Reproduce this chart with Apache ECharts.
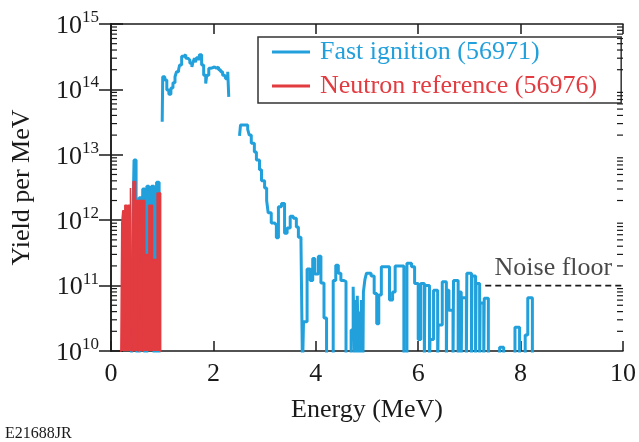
<!DOCTYPE html>
<html><head><meta charset="utf-8">
<script src="https://cdn.jsdelivr.net/npm/echarts@6/dist/echarts.min.js"></script>
<style>html,body{margin:0;padding:0;background:#fff;}#c{width:639px;height:442px;}</style>
</head><body><div id="c"></div>
<script>
const seriesNames = ['Fast ignition (56971)', 'Neutron reference (56976)'];
const xAxisTitle = 'Energy (MeV)';
const yAxisTitle = 'Yield per MeV';
const noiseFloorText = 'Noise floor';
const figureId = 'E21688JR';

// [energy (MeV), yield per MeV]; 5e9 marks a drop below the plotted floor
const blueLow = [[0.40,5e9],[0.43,1.2e12],[0.45,8.3e12],[0.49,1.0e12],[0.51,5e9],[0.55,2.2e12],[0.60,1.3e11],[0.62,3.0e12],[0.66,5e9],[0.70,3.3e12],[0.74,2e11],[0.79,3.3e12],[0.84,5e9],[0.89,3.8e12],[0.94,5e9],[0.96,5e9]];
const blueMid = [[1.00,3.2e13],[1.01,1.56e14],[1.05,1.39e14],[1.09,9.8e13],[1.13,8.4e13],[1.17,1.05e14],[1.21,1.26e14],[1.25,1.56e14],[1.28,1.86e14],[1.32,2.0e14],[1.34,2.36e14],[1.38,3.2e14],[1.42,3.4e14],[1.46,3.0e14],[1.50,2.8e14],[1.54,2.5e14],[1.58,2.2e14],[1.60,2.6e14],[1.63,3.0e14],[1.65,2.6e14],[1.67,3.05e14],[1.71,2.8e14],[1.73,3.4e14],[1.77,2.36e14],[1.81,1.65e14],[1.85,1.23e14],[1.87,1.65e14],[1.91,2.1e14],[1.95,2.0e14],[1.98,2.2e14],[2.02,2.1e14],[2.06,2.2e14],[2.10,2.0e14],[2.14,1.86e14],[2.18,1.65e14],[2.22,1.75e14],[2.24,1.46e14],[2.28,1.86e14],[2.30,7.7e13]];
const blueHigh = [[2.51,1.94e13],[2.53,2.86e13],[2.67,2.45e13],[2.70,2.0e13],[2.74,1.5e13],[2.80,1.1e13],[2.84,8.3e12],[2.90,5.9e12],[2.94,4.0e12],[3.00,3.1e12],[3.04,2.0e12],[3.07,1.3e12],[3.13,9.1e11],[3.19,8.5e11],[3.23,5.4e11],[3.27,1.6e12],[3.33,1.8e12],[3.39,6.3e11],[3.44,7.6e11],[3.50,1.15e12],[3.56,1.07e12],[3.62,7.9e11],[3.66,5.5e11],[3.71,5.0e11],[3.74,5e9],[3.76,2.8e10],[3.83,1.8e11],[3.89,1.2e11],[3.94,2.6e11],[3.98,1.5e11],[4.05,2.8e11],[4.10,1.1e11],[4.16,3.2e10],[4.21,5e9],[4.34,1.2e11],[4.39,2.05e11],[4.44,1.55e11],[4.49,1.2e11],[4.54,1.15e11],[4.59,5e9],[4.69,2.1e10],[4.73,9.6e10],[4.76,5e9],[4.77,6e10],[4.80,5e9],[4.81,7e10],[4.84,5e9],[4.85,4e10],[4.88,5e9],[4.89,6e10],[4.92,5e9],[4.93,8e10],[4.96,1.25e11],[4.99,1.55e11],[5.08,1.4e11],[5.14,7.6e10],[5.19,2.6e10],[5.23,7.2e10],[5.28,1.95e11],[5.44,6e10],[5.50,8e10],[5.55,2.0e11],[5.72,5e9],[5.78,2.2e11],[5.87,1.95e11],[5.93,1.08e11],[6.00,1.5e10],[6.05,1.08e11],[6.12,5e9],[6.13,1.0e11],[6.22,5e9],[6.23,1.5e10],[6.30,8.5e10],[6.38,5e9],[6.39,2.5e10],[6.47,1.15e11],[6.55,5e9],[6.56,8.5e10],[6.60,4.2e10],[6.68,5e9],[6.69,1.2e11],[6.78,5e9],[6.79,8e10],[6.84,5e9],[6.85,6.5e10],[6.94,5e9],[6.95,1.55e11],[7.04,5e9],[7.05,1.4e11],[7.12,5e9],[7.13,1.08e11],[7.20,5e9],[7.21,5.4e10],[7.28,5e9],[7.29,6.4e10],[7.37,5e9],[7.59,1.14e10],[7.67,5e9],[7.89,2.3e10],[7.98,5e9],[8.09,1.75e10],[8.14,6.5e10],[8.23,5e9],[8.26,5e9]];
const redRef = [[0.19,5e9],[0.21,9e11],[0.23,1.4e12],[0.27,1.7e12],[0.31,1.45e12],[0.33,1.7e12],[0.38,3.1e12],[0.41,5e9],[0.43,3.9e12],[0.48,2.0e12],[0.53,5e9],[0.54,2.0e12],[0.60,5e9],[0.61,2.0e12],[0.66,3.0e11],[0.74,1.7e12],[0.81,2.5e11],[0.90,2.6e12],[0.97,5e9],[0.98,5e9]];
const noiseFloor = [[7.31,1e11],[10,1e11]];
const noiseLabelAt = [[8.64,1e11]];
const decades = [1e10,1e11,1e12,1e13,1e14];
const minorMultipliers = [2,3,4,5,6,7,8,9];

const BLUE = '#22a0dc', RED = '#e23b40', INK = '#1a1a1a';
const F = 'Liberation Serif';
const minorTicks = [];
decades.forEach(d => minorMultipliers.forEach(m => minorTicks.push([0, d*m])));

const chart = echarts.init(document.getElementById('c'), null, {renderer:'canvas'});
const axisLine = {show:true, lineStyle:{color:INK, width:1.5}};
const blueLine = (data) => ({type:'line', name:seriesNames[0], data, step:'end', symbol:'none', color:BLUE, lineStyle:{color:BLUE, width:3}, clip:true, z:2, silent:true});

chart.setOption({
  animation:false,
  backgroundColor:'#fff',
  grid:{left:111, right:14, top:24, bottom:91},
  legend:{
    left:258, top:37, orient:'vertical', icon:'rect', itemWidth:38, itemHeight:3,
    padding:[1,24,3,14], itemGap:6, borderColor:'#333', borderWidth:1.5,
    textStyle:{fontFamily:F, fontSize:26, lineHeight:28, padding:[0,0,0,5]},
    data:[{name:seriesNames[0], textStyle:{color:BLUE}},{name:seriesNames[1], textStyle:{color:RED}}],
    selectedMode:false
  },
  xAxis:[
    {type:'value', min:0, max:10, interval:2, position:'bottom', axisLine,
     axisTick:{inside:true, length:10, lineStyle:{color:INK, width:1.5}},
     axisLabel:{fontFamily:F, fontSize:26, color:INK, margin:10},
     splitLine:{show:false}, name:xAxisTitle, nameLocation:'middle', nameGap:46,
     nameTextStyle:{fontFamily:F, fontSize:26, color:INK}},
    {type:'value', min:0, max:10, interval:2, position:'top', axisLine,
     axisTick:{inside:true, length:10, lineStyle:{color:INK, width:1.5}},
     axisLabel:{show:false}, splitLine:{show:false}}
  ],
  yAxis:[
    {type:'log', logBase:10, min:1e10, max:1e15, position:'left', axisLine,
     axisTick:{inside:true, length:12, lineStyle:{color:INK, width:1.5}},
     axisLabel:{margin:12, formatter:v => '{b|10}{s|' + Math.round(Math.log10(v)) + '}',
       rich:{b:{fontFamily:F, fontSize:26, color:INK, verticalAlign:'bottom'},
             s:{fontFamily:F, fontSize:17, color:INK, verticalAlign:'bottom', padding:[0,0,13,0]}}},
     splitLine:{show:false}, name:yAxisTitle, nameLocation:'middle', nameGap:76, nameRotate:90,
     nameTextStyle:{fontFamily:F, fontSize:26, color:INK}},
    {type:'log', logBase:10, min:1e10, max:1e15, position:'right', axisLine,
     axisTick:{inside:true, length:12, lineStyle:{color:INK, width:1.5}},
     axisLabel:{show:false}, splitLine:{show:false}}
  ],
  series:[
    blueLine(blueLow), blueLine(blueMid), blueLine(blueHigh),
    {type:'line', name:seriesNames[1], data:redRef, step:'end', symbol:'none', color:RED,
     lineStyle:{color:RED, width:1.5}, areaStyle:{color:RED, opacity:1, origin:'start'}, clip:true, z:3, silent:true},
    {type:'line', name:'noise', data:noiseFloor, symbol:'none', lineStyle:{color:INK, width:1.8, type:[6,4]}, z:4, silent:true},
    {type:'scatter', name:'noiseLabel', data:noiseLabelAt, symbolSize:1, itemStyle:{color:'rgba(0,0,0,0)'}, silent:true,
     label:{show:true, formatter:noiseFloorText, position:'top', distance:4, fontFamily:F, fontSize:26, color:INK}},
    {type:'custom', name:'minor', data:minorTicks, encode:{x:0, y:1}, silent:true, z:5,
     renderItem:(params, api) => {
       const v = api.value(1);
       const l = api.coord([0, v]), r = api.coord([10, v]);
       const st = {stroke:INK, lineWidth:1.2};
       return {type:'group', children:[
         {type:'line', shape:{x1:l[0], y1:l[1], x2:l[0]+6, y2:l[1]}, style:st},
         {type:'line', shape:{x1:r[0]-6, y1:r[1], x2:r[0], y2:r[1]}, style:st}
       ]};
     }}
  ],
  graphic:[{type:'text', left:5, top:426, style:{text:figureId, fontFamily:F, fontSize:16, fill:INK}}]
});
</script></body></html>
